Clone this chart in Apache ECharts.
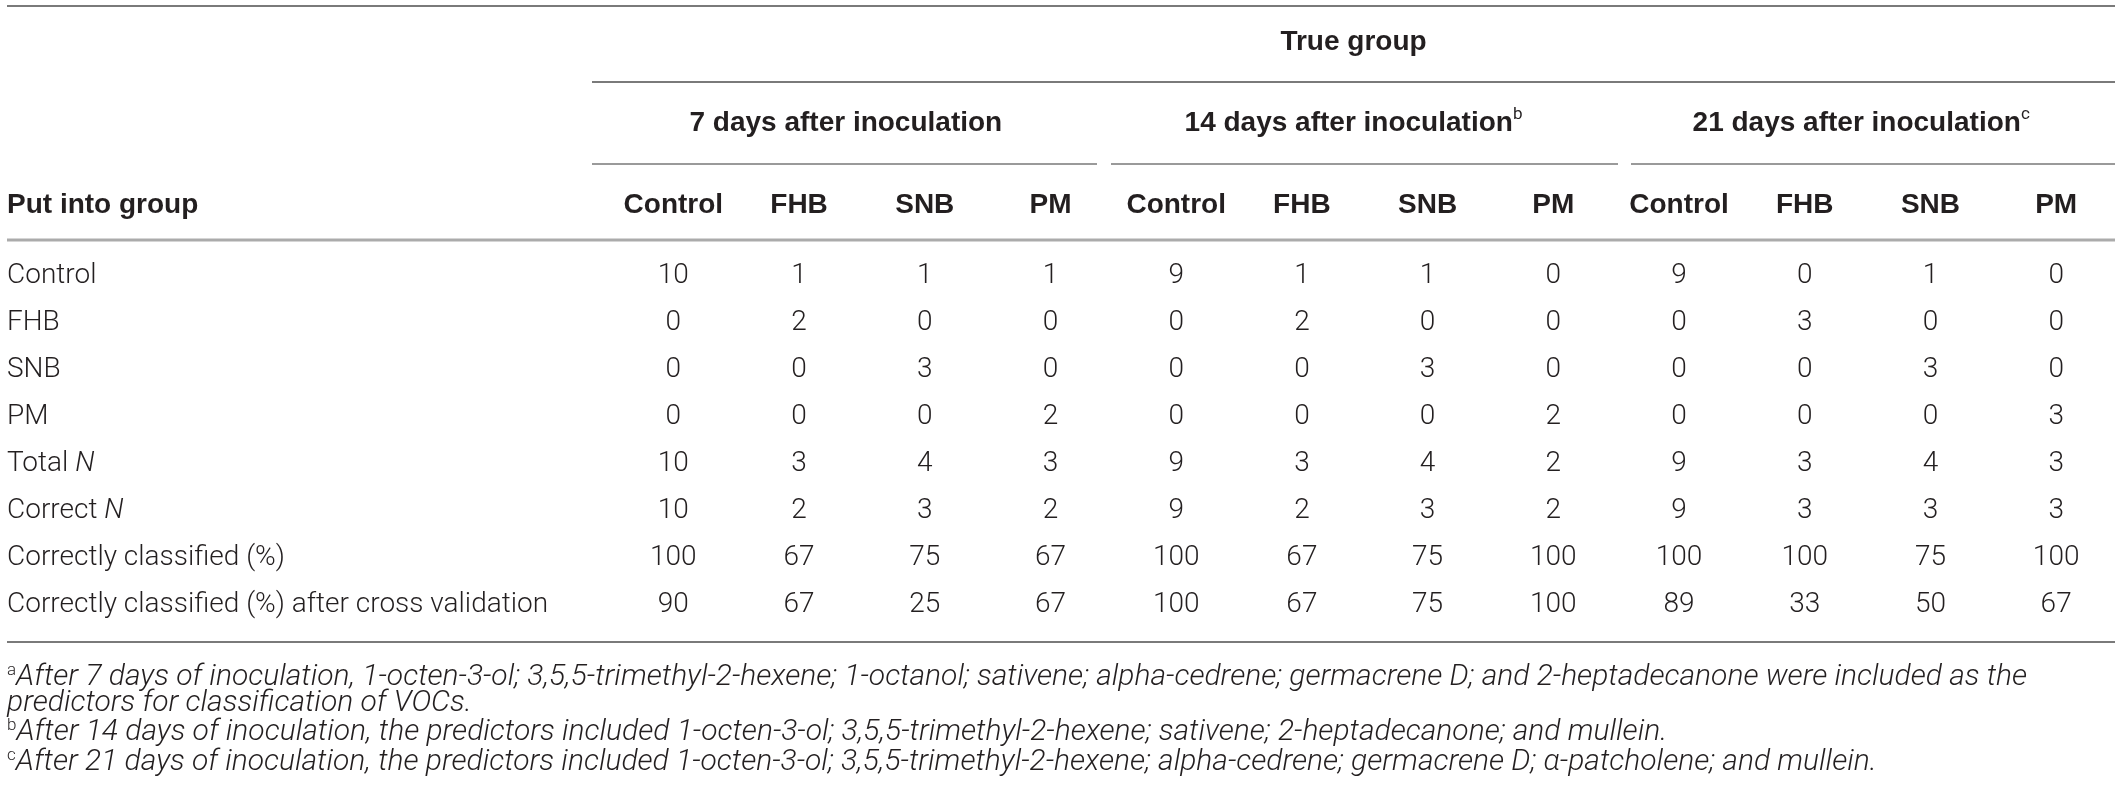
<!DOCTYPE html>
<html>
<head>
<meta charset="utf-8">
<script src="https://cdn.jsdelivr.net/npm/echarts@6/dist/echarts.min.js"></script>
<style>
  html, body { margin: 0; padding: 0; background: #fff; }
  #chart { width: 2119px; height: 804px; }
</style>
</head>
<body>
<div id="chart"></div>
<script>
// table content
const trueGroupTitle = "True group";
const rowHeader = "Put into group";
const dayGroups = ["7 days after inoculation", "14 days after inoculation", "21 days after inoculation"];
const dayNotes = ["", "b", "c"];
const groupNames = ["Control", "FHB", "SNB", "PM"];
const columns = [...groupNames, ...groupNames, ...groupNames];
const rowLabels = ["Control", "FHB", "SNB", "PM", "Total N", "Correct N",
  "Correctly classified (%)", "Correctly classified (%) after cross validation"];

// one array per row, 4 values per day group (7, 14, 21 days)
const control    = [10, 1, 1, 1,   9, 1, 1, 0,    9, 0, 1, 0];
const fhb        = [0, 2, 0, 0,    0, 2, 0, 0,    0, 3, 0, 0];
const snb        = [0, 0, 3, 0,    0, 0, 3, 0,    0, 0, 3, 0];
const pm         = [0, 0, 0, 2,    0, 0, 0, 2,    0, 0, 0, 3];
const totalN     = [10, 3, 4, 3,   9, 3, 4, 2,    9, 3, 4, 3];
const correctN   = [10, 2, 3, 2,   9, 2, 3, 2,    9, 3, 3, 3];
const correctPct = [100, 67, 75, 67,  100, 67, 75, 100,  100, 100, 75, 100];
const crossValPct = [90, 67, 25, 67,  100, 67, 75, 100,  89, 33, 50, 67];
const rows = [control, fhb, snb, pm, totalN, correctN, correctPct, crossValPct];

const footnotes = [
  ["a", "After 7 days of inoculation, 1-octen-3-ol; 3,5,5-trimethyl-2-hexene; 1-octanol; sativene; alpha-cedrene; germacrene D; and 2-heptadecanone were included as the"],
  ["", "predictors for classification of VOCs."],
  ["b", "After 14 days of inoculation, the predictors included 1-octen-3-ol; 3,5,5-trimethyl-2-hexene; sativene; 2-heptadecanone; and mullein."],
  ["c", "After 21 days of inoculation, the predictors included 1-octen-3-ol; 3,5,5-trimethyl-2-hexene; alpha-cedrene; germacrene D; \u03b1-patcholene; and mullein."]
];

// build cells [col, row, value]
const cells = [];
rows.forEach((vals, r) => vals.forEach((v, c) => cells.push([c, r, v])));

const ink = "#231f20";
const lightFont = "Roboto";
const boldFont = "Liberation Sans";
const left = 7, right = 2115, spanLeft = 592;

const chart = echarts.init(document.getElementById("chart"));

const hline = (x1, x2, y, color, w) => ({
  type: "line",
  shape: { x1: x1, y1: y, x2: x2, y2: y },
  style: { stroke: color, lineWidth: w },
  silent: true
});

const footnoteTexts = footnotes.map((f, i) => ({
  type: "text",
  x: left,
  y: [677, 703, 732, 762][i],
  style: {
    text: (f[0] ? "{sup|" + f[0] + "}" : "") + "{t|" + f[1] + "}",
    verticalAlign: "middle",
    rich: {
      sup: { fontFamily: lightFont, fontWeight: 300, fontSize: 17, fill: ink, verticalAlign: "top", lineHeight: 30 },
      t: { fontFamily: lightFont, fontWeight: 300, fontStyle: "italic", fontSize: 30, fill: ink, lineHeight: 30 }
    }
  }
}));

const option = {
  animation: false,
  backgroundColor: "#fff",
  grid: [
    { left: 610.5, top: 252.5, width: 1548, height: 376 },
    { left: spanLeft, top: 240, width: right - spanLeft, height: 10 }
  ],
  xAxis: [
    {
      gridIndex: 0, type: "category", position: "top", data: columns,
      axisLine: { show: false }, axisTick: { show: false }, splitLine: { show: false },
      axisLabel: {
        interval: 0, margin: 47.5, verticalAlign: "middle",
        fontFamily: boldFont, fontWeight: "bold", fontSize: 28, color: ink
      }
    },
    {
      gridIndex: 1, type: "category", position: "top", data: dayGroups,
      axisLine: { show: false }, axisTick: { show: false }, splitLine: { show: false },
      axisLabel: {
        interval: 0, margin: 117, verticalAlign: "middle",
        formatter: (v, i) => "{h|" + v + "}" + (dayNotes[i] ? "{s|" + dayNotes[i] + "}" : ""),
        rich: {
          h: { fontFamily: boldFont, fontWeight: "bold", fontSize: 28, color: ink, lineHeight: 34 },
          s: { fontFamily: lightFont, fontSize: 17, color: ink, verticalAlign: "top", lineHeight: 34 }
        }
      }
    },
    {
      gridIndex: 1, type: "category", position: "top", data: [trueGroupTitle],
      axisLine: { show: false }, axisTick: { show: false }, splitLine: { show: false },
      axisLabel: {
        interval: 0, margin: 198, verticalAlign: "middle",
        fontFamily: boldFont, fontWeight: "bold", fontSize: 28, color: ink
      }
    }
  ],
  yAxis: [
    {
      gridIndex: 0, type: "category", inverse: true, data: rowLabels,
      axisLine: { show: false }, axisTick: { show: false }, splitLine: { show: false },
      axisLabel: {
        interval: 0, margin: 610.5 - left, align: "left",
        fontFamily: lightFont, fontWeight: 300, fontSize: 28, color: ink,
        formatter: v => v.replace(/ N$/, " {i|N}"),
        rich: { i: { fontFamily: lightFont, fontWeight: 300, fontStyle: "italic", fontSize: 28, color: ink } }
      }
    },
    { gridIndex: 1, type: "value", show: false }
  ],
  series: [{
    type: "custom",
    xAxisIndex: 0,
    yAxisIndex: 0,
    data: cells,
    encode: { x: 0, y: 1 },
    renderItem: (params, api) => {
      const p = api.coord([api.value(0), api.value(1)]);
      return {
        type: "text",
        x: p[0],
        y: p[1],
        style: {
          text: String(api.value(2)),
          align: "center",
          verticalAlign: "middle",
          fontFamily: lightFont,
          fontWeight: 300,
          fontSize: 28,
          fill: ink
        }
      };
    }
  }],
  graphic: [
    hline(left, right, 6, "#7a7a7a", 2),
    hline(spanLeft, right, 82, "#7a7a7a", 2),
    hline(spanLeft, 1097, 164, "#9a9a9a", 2),
    hline(1111, 1618, 164, "#9a9a9a", 2),
    hline(1631, right, 164, "#9a9a9a", 2),
    hline(left, right, 240, "#ababab", 3),
    hline(left, right, 642, "#7a7a7a", 2),
    {
      type: "text", x: left, y: 205,
      style: { text: rowHeader, verticalAlign: "middle", fontFamily: boldFont, fontWeight: "bold", fontSize: 28, fill: ink }
    },
    ...footnoteTexts
  ]
};

chart.setOption(option);
</script>
</body>
</html>
